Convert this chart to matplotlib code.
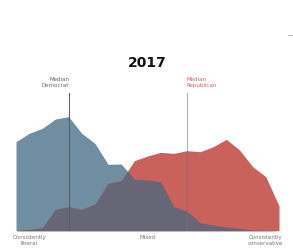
import matplotlib
matplotlib.use("Agg")
import matplotlib.pyplot as plt
import numpy as np
from matplotlib.lines import Line2D

# Ideological scale positions (0 = consistently liberal, 20 = consistently conservative)
positions = list(range(21))
democrats = [267, 292, 307, 335, 342, 292, 262, 199, 200, 155, 152, 147,
             72, 59, 24, 17, 11, 7, 2, 1, 0]
republicans = [0, 4, 9, 64, 72, 64, 80, 142, 150, 210, 224, 235,
               232, 240, 237, 252, 274, 242, 192, 162, 74]
median_dem = 4
median_rep = 13
year = "2017"
tick_pos = [1, 10, 19]
tick_labels = ["Consistently\nliberal", "Mixed", "Consistently\nconservative"]

BLUE = "#6f8ea1"
RED = "#c9625a"
OVER = "#676677"

fig = plt.figure(figsize=(2.93, 2.5), dpi=100)
ax = fig.add_axes([16/293, (250-230.7)/250, 263/293, 137.7/250])

x = np.array(positions, dtype=float)
d = np.array(democrats, dtype=float)
r = np.array(republicans, dtype=float)
# densify for correct overlap at crossings
xf = np.linspace(x[0], x[-1], 2001)
df = np.interp(xf, x, d)
rf = np.interp(xf, x, r)
ax.fill_between(xf, 0, df, color=BLUE, lw=0)
ax.fill_between(xf, 0, rf, color=RED, lw=0)
ax.fill_between(xf, 0, np.minimum(df, rf), color=OVER, lw=0)

ymax = 413
ax.set_xlim(x[0], x[-1])
ax.set_ylim(0, ymax)
ax.axvline(median_dem, color="#5a5a5a", lw=0.7)
ax.axvline(median_rep, color="#7a6f78", alpha=0.5, lw=0.9)
ax.axhline(0, color="#dddddd", lw=0.6)

ax.text(median_dem + 0.05, ymax + 14, "Median\nDemocrat", ha="right", va="bottom",
        fontsize=4, color="#666666", linespacing=1.25)
ax.text(median_rep - 0.05, ymax + 14, "Median\nRepublican", ha="left", va="bottom",
        fontsize=4, color="#c9625a", linespacing=1.25)

for p, lab in zip(tick_pos, tick_labels):
    ax.text(p, -12, lab, ha="center", va="top", fontsize=4, color="#777777",
            linespacing=1.4)

for s in ax.spines.values():
    s.set_visible(False)
ax.set_xticks([])
ax.set_yticks([])

fig.text(147/293, 1 - 63/250, year, ha="center", va="center", fontsize=10,
         fontweight="bold", color="#111111")
fig.add_artist(Line2D([288/293, 1.0], [1 - 35/250, 1 - 35/250], color="#bbbbbb", lw=0.8))

fig.savefig("out.png", dpi=100)
